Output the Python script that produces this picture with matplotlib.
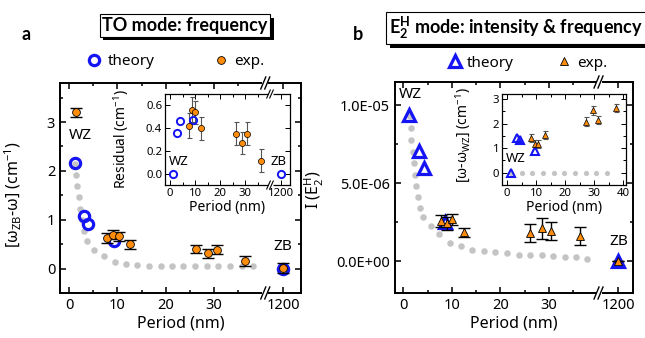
import numpy as np
import matplotlib
matplotlib.use("Agg")
import matplotlib.pyplot as plt
import matplotlib.transforms as mtransforms
from matplotlib.lines import Line2D
from matplotlib.patches import Rectangle
from matplotlib.ticker import FixedLocator, FuncFormatter

plt.rcParams['font.family'] = ['Noto Sans', 'DejaVu Sans']
plt.rcParams['mathtext.fontset'] = 'custom'
plt.rcParams['mathtext.rm'] = 'Noto Sans'
plt.rcParams['mathtext.it'] = 'Noto Sans:italic'
plt.rcParams['mathtext.bf'] = 'Lato:bold'

# ---------------- data ----------------
# panel a (TO mode), main
a_th_x = [1.3, 3.1, 4.0, 9.2, 1200]
a_th_y = [2.16, 1.07, 0.92, 0.57, 0.0]
a_ex_x = [1.4, 7.9, 9.0, 10.3, 12.6, 26.2, 28.8, 30.7, 36.5, 1200]
a_ex_y = [3.20, 0.63, 0.69, 0.66, 0.50, 0.40, 0.31, 0.39, 0.16, 0.01]
a_ex_err = [0.09, 0.10, 0.09, 0.09, 0.09, 0.08, 0.10, 0.09, 0.10, 0.10]
a_dot_x = [1.30, 1.45, 1.66, 2.00, 2.34, 2.69, 3.17, 3.73, 5.11, 7.18, 9.46, 11.7,
           14.1, 16.6, 19.0, 21.3, 23.6, 26.1, 28.6, 30.8, 33.3, 35.8, 38.1]
a_dot_y = [2.14, 1.92, 1.69, 1.46, 1.22, 1.00, 0.76, 0.56, 0.39, 0.25, 0.13, 0.09,
           0.07, 0.06, 0.06, 0.05, 0.05, 0.05, 0.05, 0.05, 0.05, 0.05, 0.05]
# panel a inset (residual)
ia_th_x = [1.1, 2.7, 4.0, 9.1, 1200]
ia_th_y = [0.0, 0.36, 0.46, 0.47, 0.0]
ia_ex_x = [7.7, 8.9, 10.1, 12.5, 26.3, 28.8, 30.7, 36.5]
ia_ex_y = [0.42, 0.56, 0.54, 0.40, 0.35, 0.27, 0.35, 0.115]
ia_ex_err = [0.11, 0.11, 0.10, 0.10, 0.10, 0.10, 0.10, 0.10]

# panel b (E2H mode), main
b_th_x = [1.2, 3.2, 4.2, 8.6, 1200]
b_th_y = [9.4e-6, 7.1e-6, 6.0e-6, 2.5e-6, 0.0]
b_ex_x = [7.8, 9.0, 10.1, 12.5, 26.1, 28.6, 30.5, 36.4, 1200]
b_ex_y = [2.57e-6, 2.42e-6, 2.68e-6, 1.85e-6, 1.82e-6, 2.10e-6, 1.95e-6, 1.60e-6, 0.0]
b_ex_err = [3.7e-7, 3.9e-7, 3.5e-7, 2.7e-7, 5.9e-7, 6.7e-7, 5.8e-7, 5.7e-7, 0.0]
b_dot_x = [1.32, 1.53, 1.65, 2.00, 2.21, 2.48, 2.69, 3.04, 3.39, 4.07, 5.66, 7.38, 9.71,
           11.86, 14.2, 16.6, 18.9, 21.4, 23.8, 26.0, 28.5, 30.8, 33.2, 35.5, 37.9]
b_dot_y = [9.29e-6, 8.54e-6, 7.79e-6, 7.03e-6, 6.29e-6, 5.53e-6, 4.83e-6, 4.10e-6, 3.43e-6,
           2.81e-6, 2.27e-6, 1.74e-6, 1.18e-6, 0.97e-6, 0.75e-6, 0.68e-6, 0.58e-6, 0.50e-6,
           0.43e-6, 0.43e-6, 0.39e-6, 0.32e-6, 0.28e-6, 0.24e-6, 0.17e-6]
# panel b inset (frequency shift)
ib_th_x = [1.4, 3.2, 4.3, 9.4]
ib_th_y = [0.0, 1.40, 1.33, 0.89]
ib_ex_x = [8.2, 9.4, 10.7, 13.1, 27.0, 29.6, 31.4, 37.3]
ib_ex_y = [1.40, 1.17, 1.17, 1.54, 2.08, 2.53, 2.15, 2.64]
ib_ex_err = [0.17, 0.17, 0.17, 0.17, 0.17, 0.17, 0.17, 0.17]
ib_dot_x = [1.4, 5.1, 8.6, 12.4, 16.1, 19.6, 23.3, 27.1, 30.5, 34.3]
ib_dot_y = [0, 0, 0, 0, 0, 0, 0, 0, 0, 0]

x_major = [0, 10, 20, 30, 1200]
x_labels = ['0', '10', '20', '30', '1200']
x_minor = [5, 15, 25, 35]

BLUE = '#1414f5'
ORANGE = '#ff8c0a'
GREY = '#c4c4c4'
BOLD_FONT = ['Lato', 'DejaVu Sans']

# ------------- broken x-axis as a scale -------------
P1200 = 44.3

def fwd(x):
    x = np.asarray(x, dtype=float)
    return np.where(x <= 41, x,
                    np.where(x >= 1190, P1200 + (x - 1200) * 0.3,
                             41 + (x - 41) * ((P1200 - 3 - 41) / 1149.0)))

def inv(p):
    p = np.asarray(p, dtype=float)
    lo = P1200 - 3
    return np.where(p <= 41, p,
                    np.where(p >= lo, 1200 + (p - P1200) / 0.3,
                             41 + (p - 41) * 1149.0 / (lo - 41)))

def p2x(p):
    return float(inv(p))

W, H = 645, 338
fig = plt.figure(figsize=(6.45, 3.38), dpi=100)

def rect(x0, y0, x1, y1):
    return [x0 / W, 1 - y1 / H, (x1 - x0) / W, (y1 - y0) / H]

axa = fig.add_axes(rect(60, 83, 301, 293))
iaa = fig.add_axes(rect(165, 94, 290, 185))
axb = fig.add_axes(rect(395, 82, 633, 293))
iab = fig.add_axes(rect(502, 94, 626, 185))

for ax, lw in ((axa, 1.4), (axb, 1.4), (iaa, 0.9), (iab, 0.9)):
    for s in ax.spines.values():
        s.set_linewidth(lw)
    ax.tick_params(which='both', direction='in', top=True, right=True, width=lw * 0.8)
    ax.tick_params(which='major', length=4.5 if lw > 1 else 3.5)
    ax.tick_params(which='minor', length=2.5 if lw > 1 else 2)

for ax in (axa, axb, iaa):
    ax.set_xscale('function', functions=(fwd, inv))
    ax.set_xticks(x_major)
    ax.set_xticklabels(x_labels)
    ax.xaxis.set_minor_locator(FixedLocator(x_minor))

# ---------------- panel a main ----------------
axa.scatter(a_dot_x, a_dot_y, s=22, color=GREY, linewidths=0, zorder=1)
axa.plot(a_th_x, a_th_y, 'o', ms=7.4, mfc='none', mec=BLUE, mew=2.3, zorder=2, label='theory')
axa.errorbar(a_ex_x, a_ex_y, yerr=a_ex_err, fmt='none', ecolor='black', elinewidth=1.0,
             capsize=4.3, capthick=1.0, zorder=3)
axa.plot(a_ex_x, a_ex_y, 'o', ms=5.6, mfc=ORANGE, mec='black', mew=0.6, zorder=4, label='exp.')
axa.set_xlim(-1.9, p2x(48.0))
axa.set_ylim(-0.5, 3.8)
axa.yaxis.set_major_locator(FixedLocator([0, 1, 2, 3]))
axa.yaxis.set_minor_locator(FixedLocator([-0.5, 0.5, 1.5, 2.5, 3.5]))
axa.tick_params(labelsize=10.5)
axa.set_xlabel('Period (nm)', fontsize=11.5, labelpad=2)
axa.set_ylabel(r'[ω$_{\mathrm{ZB}}$-ω] (cm$^{-1}$)', fontsize=11.5)
axa.yaxis.set_label_coords(-0.15, 0.47)
axa.text(2.3, 2.72, 'WZ', fontsize=11, ha='center', va='center')
axa.text(1200, 0.45, 'ZB', fontsize=11, ha='center', va='center')
axa.legend(ncol=2, loc='center', bbox_to_anchor=(0.48, 1.10), frameon=False,
           columnspacing=3.8, handletextpad=0.4, handlelength=1.0, fontsize=11,
           borderaxespad=0, numpoints=1)

# ---------------- panel a inset ----------------
iaa.errorbar(ia_ex_x, ia_ex_y, yerr=ia_ex_err, fmt='none', ecolor='#555555', elinewidth=0.8,
             capsize=1.8, capthick=0.8, zorder=2)
iaa.plot(ia_th_x, ia_th_y, 'o', ms=5.2, mfc='none', mec=BLUE, mew=1.4, zorder=3)
iaa.plot(ia_ex_x, ia_ex_y, 'o', ms=4.4, mfc=ORANGE, mec='black', mew=0.5, zorder=4)
iaa.set_xlim(-2.0, p2x(48.0))
iaa.set_ylim(-0.1, 0.7)
iaa.yaxis.set_major_locator(FixedLocator([0.0, 0.2, 0.4, 0.6]))
iaa.yaxis.set_major_formatter(FuncFormatter(lambda v, pos: f'{v:.1f}'))
iaa.tick_params(labelsize=8.2, pad=2)
iaa.set_xlabel('Period (nm)', fontsize=10, labelpad=1)
iaa.set_ylabel(r'Residual (cm$^{-1}$)', fontsize=10)
iaa.yaxis.set_label_coords(-0.27, 0.5)
iaa.text(3.3, 0.108, 'WZ', fontsize=9.5, ha='center', va='center')
iaa.text(p2x(43.3), 0.108, 'ZB', fontsize=9.5, ha='center', va='center')

# ---------------- panel b main ----------------
axb.scatter(b_dot_x, b_dot_y, s=22, color=GREY, linewidths=0, zorder=1)
axb.plot(b_th_x, b_th_y, '^', ms=8.2, mfc='none', mec=BLUE, mew=2.3, zorder=2, label='theory')
axb.errorbar(b_ex_x, b_ex_y, yerr=b_ex_err, fmt='none', ecolor='black', elinewidth=1.0,
             capsize=4.3, capthick=1.0, zorder=3)
axb.plot(b_ex_x, b_ex_y, '^', ms=6.2, mfc=ORANGE, mec='black', mew=0.6, zorder=4, label='exp.')
axb.set_xlim(-1.7, p2x(47.3))
axb.set_ylim(-2.04e-6, 1.15e-5)
axb.yaxis.set_major_locator(FixedLocator([0, 5e-6, 1e-5]))
axb.yaxis.set_minor_locator(FixedLocator([-2.5e-6, 2.5e-6, 7.5e-6]))
axb.yaxis.set_major_formatter(FuncFormatter(lambda v, pos: '%.1E' % v))
axb.tick_params(labelsize=10.5)
axb.set_xlabel('Period (nm)', fontsize=11.5, labelpad=2)
axb.set_ylabel(r'I (E$_2^{\mathrm{H}}$)', fontsize=11.5)
axb.yaxis.set_label_coords(-0.29, 0.49)
axb.text(1.4, 1.068e-5, 'WZ', fontsize=11, ha='center', va='center')
axb.text(1200, 1.24e-6, 'ZB', fontsize=11, ha='center', va='center')
axb.legend(ncol=2, loc='center', bbox_to_anchor=(0.555, 1.09), frameon=False,
           columnspacing=2.8, handletextpad=0.3, handlelength=1.0, fontsize=11,
           borderaxespad=0, numpoints=1)

# ---------------- panel b inset ----------------
iab.scatter(ib_dot_x, ib_dot_y, s=14, color=GREY, linewidths=0, zorder=1)
iab.errorbar(ib_ex_x, ib_ex_y, yerr=ib_ex_err, fmt='none', ecolor='#555555', elinewidth=0.8,
             capsize=1.8, capthick=0.8, zorder=2)
iab.plot(ib_th_x, ib_th_y, '^', ms=6.0, mfc='none', mec=BLUE, mew=1.5, zorder=3)
iab.plot(ib_ex_x, ib_ex_y, '^', ms=4.8, mfc=ORANGE, mec='black', mew=0.5, zorder=4)
iab.set_xlim(-1.8, 40.9)
iab.set_ylim(-0.5, 3.2)
iab.xaxis.set_major_locator(FixedLocator([0, 10, 20, 30, 40]))
iab.xaxis.set_minor_locator(FixedLocator([5, 15, 25, 35]))
iab.yaxis.set_major_locator(FixedLocator([0, 1, 2, 3]))
iab.yaxis.set_minor_locator(FixedLocator([-0.5, 0.5, 1.5, 2.5]))
iab.tick_params(labelsize=8.2, pad=2)
iab.set_xlabel('Period (nm)', fontsize=10, labelpad=1)
iab.set_ylabel(r'[ω-ω$_{\mathrm{WZ}}$] (cm$^{-1}$)', fontsize=10)
iab.yaxis.set_label_coords(-0.24, 0.55)
iab.text(2.8, 0.59, 'WZ', fontsize=9.5, ha='center', va='center')

# ---------------- axis-break marks ----------------
def add_break(ax, pbreak, half_h, half_dx, gap, lw, spine_lw):
    xd = p2x(pbreak)
    tr = mtransforms.blended_transform_factory(ax.transData, ax.transAxes)
    for y0 in (0.0, 1.0):
        X, Y = tr.transform((xd, y0))
        fig.add_artist(Line2D([X - gap / 2 - 1, X + gap / 2 + 1], [Y, Y], color='white',
                              lw=spine_lw + 1.2, transform=mtransforms.IdentityTransform(),
                              zorder=10, solid_capstyle='butt'))
        for off in (-gap / 2, gap / 2):
            fig.add_artist(Line2D([X + off - half_dx, X + off + half_dx], [Y - half_h, Y + half_h],
                                  color='black', lw=lw, transform=mtransforms.IdentityTransform(),
                                  zorder=11))

add_break(axa, 40.6, 6, 2.5, 4, 1.0, 1.4)
add_break(axb, 40.2, 6, 2.5, 4, 1.0, 1.4)
add_break(iaa, 40.0, 4, 1.8, 3, 0.8, 0.9)

# ---------------- titles and panel letters ----------------
titles = []
def boxed_title(xf, yf, s):
    t = fig.text(xf, yf, s, ha='center', va='center', fontsize=13, fontweight='bold',
                 family=BOLD_FONT, color='black', zorder=3,
                 bbox=dict(boxstyle='square,pad=0.15', fc='white', ec='black', lw=0.8))
    titles.append(t)

boxed_title(185 / W, 1 - 25.5 / H, 'TO mode: frequency')
boxed_title(516 / W, 1 - 28.3 / H, r'E$_{\mathbf{2}}^{\mathbf{H}}$ mode: intensity & frequency')

fig.text(26.5 / W, 1 - 34 / H, 'a', fontsize=13, fontweight='bold', family=BOLD_FONT,
         ha='center', va='center')
fig.text(357.5 / W, 1 - 34 / H, 'b', fontsize=13, fontweight='bold', family=BOLD_FONT,
         ha='center', va='center')

# drop shadows behind the title boxes
fig.canvas.draw()
renderer = fig.canvas.get_renderer()
for t in titles:
    bb = t.get_bbox_patch().get_window_extent(renderer)
    fig.add_artist(Rectangle((bb.x0 + 3.5, bb.y0 - 3.5), bb.width, bb.height,
                             transform=mtransforms.IdentityTransform(),
                             fc='black', ec='black', lw=0, zorder=2))

fig.savefig('out.png', dpi=100)
